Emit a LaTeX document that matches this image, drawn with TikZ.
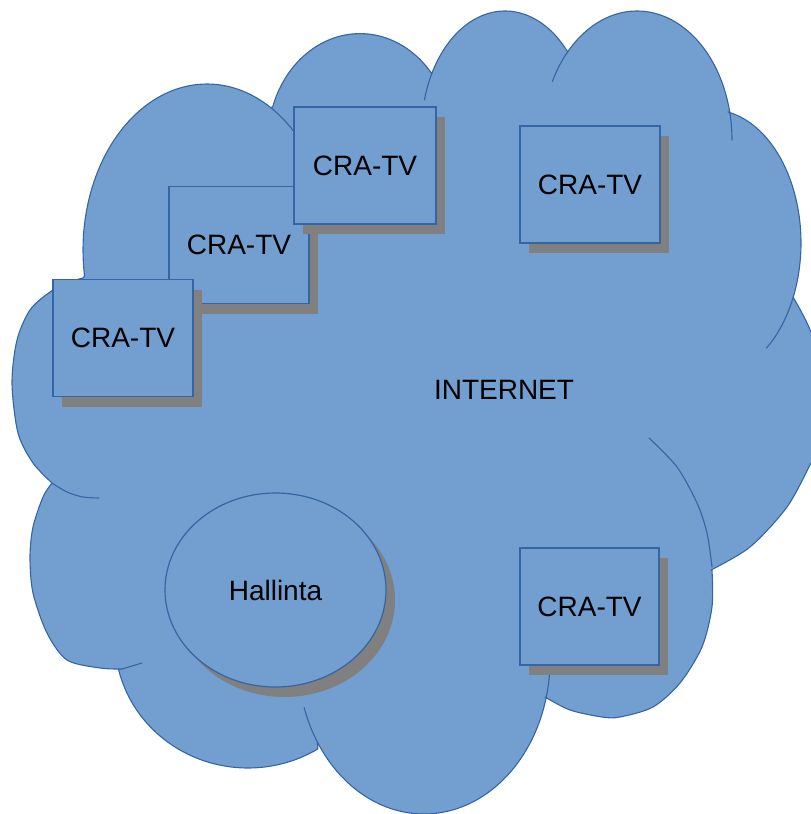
\documentclass[tikz,border=0pt]{standalone}
\usepackage{fontspec}
\setmainfont{Liberation Sans}
\usetikzlibrary{shadows,shapes.geometric}
\definecolor{cloudfill}{HTML}{729FCF}
\definecolor{cloudline}{HTML}{3465A4}
\definecolor{shadowgray}{HTML}{808080}
\tikzset{
  outline/.style={draw=cloudline, line width=1.1pt, line join=round},
  tailline/.style={draw=cloudline, line width=1.1pt, line cap=round},
  lobe/.style={samples=60, variable=\t},
  tvbox/.style={rectangle, draw=cloudline, fill=cloudfill, line width=1.2pt,
    minimum width=140pt, minimum height=117pt, inner sep=0pt,
    font=\fontsize{28}{34}\selectfont,
    drop shadow={shadow xshift=9pt, shadow yshift=-10pt, fill=shadowgray, opacity=1}},
  mgmt/.style={ellipse, draw=cloudline, fill=cloudfill, line width=1.2pt,
    minimum width=221pt, minimum height=194pt, inner sep=0pt,
    font=\fontsize{28}{34}\selectfont,
    drop shadow={shadow xshift=9pt, shadow yshift=-10pt, fill=shadowgray, opacity=1}},
  label/.style={font=\fontsize{28}{34}\selectfont, inner sep=0pt}
}
\begin{document}
\begin{tikzpicture}[x=1pt, y=-1pt]
\useasboundingbox (0,0) rectangle (811,814);
% cloud outline (y grows downwards)
\path[fill=cloudfill, outline]
  plot[lobe, domain=171:301] ({207+124*cos(\t)},{250+166*sin(\t)})          % K
  -- plot[lobe, domain=198.3:321.1] ({360+92*cos(\t)},{140.6+107*sin(\t)})  % A
  -- plot[lobe, domain=209.1:318.7] ({505+83.5*cos(\t)},{131.6+120.6*sin(\t)}) % B
  -- plot[lobe, domain=223:347.5] ({637+95*cos(\t)},{140+129*sin(\t)})      % C
  -- plot[lobe, domain=280.9:384] ({711+90*cos(\t)},{243+133.4*sin(\t)})    % D
  -- plot[smooth] coordinates {(793,297) (808,325) (820,360) (826,410) (820,445) (811,463) (787,507) (750,547) (711,570)} % E
  -- plot[smooth] coordinates {(712,570) (712,607) (702,647) (680,683) (653,707) (620,717) (602,717) (570,710) (545,697)} % F
  -- plot[lobe, domain=14.3:147.8] ({424+126*cos(\t)},{660+154*sin(\t)})    % G
  -- plot[lobe, domain=58.3:166.9] ({248+133*cos(\t)},{640+128*sin(\t)})    % H
  -- plot[smooth] coordinates {(122,669) (100,668) (67,660) (47,633) (33,593) (30,557) (33,527) (43,497) (52,483)} % I
  -- plot[smooth] coordinates {(52,483) (33,463) (18,433) (12,383) (17,340) (30,310) (50,292) (70,282) (83,278)} % J
  -- cycle;
% inner lobe tails
\draw[tailline] plot[lobe, domain=301:315] ({207+124*cos(\t)},{250+166*sin(\t)});
\draw[tailline] plot[lobe, domain=195.2:209.1] ({505+83.5*cos(\t)},{131.6+120.6*sin(\t)});
\draw[tailline] plot[lobe, domain=207:223] ({637+95*cos(\t)},{140+129*sin(\t)});
\draw[tailline] plot[lobe, domain=347.5:360] ({637+95*cos(\t)},{140+129*sin(\t)});
\draw[tailline] plot[lobe, domain=384:412] ({711+90*cos(\t)},{243+133.4*sin(\t)});
\draw[tailline] plot[smooth] coordinates {(649,438) (677,467) (697,503) (707,533) (712,567)};
\draw[tailline] plot[lobe, domain=4.8:14.3] ({424+126*cos(\t)},{660+154*sin(\t)});
\draw[tailline] plot[lobe, domain=147.8:162] ({424+126*cos(\t)},{660+154*sin(\t)});
\draw[tailline] plot[smooth] coordinates {(122,669) (132,666) (142,663)};
\draw[tailline] plot[smooth] coordinates {(52,483) (67,492) (83,497) (99,498)};
% label
\node[label] (internet) at (504,390) {INTERNET};
% devices
\node[tvbox] (tv2) at (239,245) {CRA-TV};
\node[tvbox] (tv3) at (123,338) {CRA-TV};
\node[tvbox, minimum width=142pt] (tv1) at (365,165.5) {CRA-TV};
\node[tvbox] (tv4) at (590,184.5) {CRA-TV};
\node[tvbox, minimum width=139pt] (tv5) at (589.5,606.5) {CRA-TV};
\node[mgmt] (hallinta) at (275.5,590) {Hallinta};
\end{tikzpicture}
\end{document}
